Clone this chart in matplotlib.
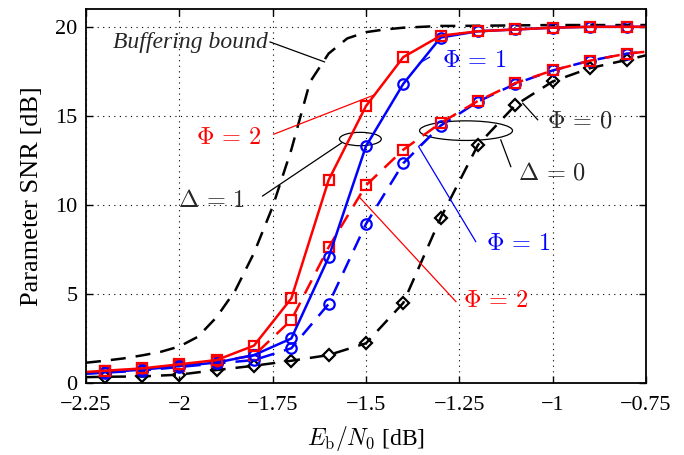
import numpy as np
import matplotlib
matplotlib.use("Agg")
import matplotlib.pyplot as plt
from matplotlib.patches import Ellipse

plt.rcParams["font.family"] = "Liberation Serif"
plt.rcParams["mathtext.fontset"] = "cm"

# Eb/N0 grid [dB]; markers sit on -2.2 ... -0.8, lines run edge to edge
ebn0 = [-2.25, -2.2, -2.1, -2.0, -1.9, -1.8, -1.7, -1.6, -1.5, -1.4,
        -1.3, -1.2, -1.1, -1.0, -0.9, -0.8, -0.75]

# Delta = 1 (solid)
snr_d1_phi2 = [0.62, 0.69, 0.82, 1.05, 1.29, 2.1, 4.75, 11.4, 15.55, 18.3,
               19.5, 19.75, 19.85, 19.95, 20.0, 20.0, 20.0]
snr_d1_phi1 = [0.55, 0.6, 0.75, 0.95, 1.15, 1.57, 2.5, 7.06, 13.3, 16.8,
               19.4, 19.75, 19.85, 19.95, 20.0, 20.0, 20.0]

# Delta = 0 (dashed)
snr_d0_phi2 = [0.58, 0.65, 0.78, 0.98, 1.2, 1.55, 3.54, 7.62, 11.1, 13.1,
               14.6, 15.84, 16.84, 17.55, 18.1, 18.5, 18.6]
snr_d0_phi1 = [0.52, 0.58, 0.7, 0.9, 1.1, 1.29, 1.95, 4.44, 8.93, 12.34,
               14.45, 15.8, 16.8, 17.55, 18.1, 18.5, 18.6]
snr_d0_phi0 = [0.33, 0.35, 0.37, 0.47, 0.73, 0.97, 1.25, 1.57, 2.23, 4.5,
               9.27, 13.37, 15.6, 16.93, 17.68, 18.15, 18.4]

# buffering bound (no markers)
buf_x = [-2.25, -2.2, -2.15, -2.1, -2.05, -2.0, -1.95, -1.9, -1.85, -1.8,
         -1.75, -1.7, -1.65, -1.6, -1.55, -1.5, -1.45, -1.4, -1.35, -1.3,
         -1.25, -1.0, -0.75]
buf_y = [1.14, 1.25, 1.38, 1.55, 1.75, 2.05, 2.6, 3.7, 5.2, 7.3,
         9.9, 13.1, 16.9, 18.5, 19.35, 19.7, 19.85, 19.95, 20.0, 20.05,
         20.05, 20.1, 20.1]

fig = plt.figure(figsize=(6.84, 4.55), dpi=100)
ax = fig.add_axes([0.1257, 0.1582, 0.8187, 0.822])

lw = 1.8
mk = dict(markersize=7.5, markerfacecolor="none", markeredgewidth=1.6,
          markevery=slice(1, 16))
dash = (6, 4)

ax.plot(buf_x, buf_y, color="k", lw=lw, dashes=dash)
ax.plot(ebn0, snr_d0_phi0, color="k", lw=lw, dashes=dash, marker="D",
        **{**mk, "markersize": 6.5})
ax.plot(ebn0, snr_d0_phi1, color="b", lw=lw, dashes=dash, marker="o", **mk)
ax.plot(ebn0, snr_d0_phi2, color="r", lw=lw, dashes=dash, marker="s", **mk)
ax.plot(ebn0, snr_d1_phi1, color="b", lw=lw, marker="o", **mk)
ax.plot(ebn0, snr_d1_phi2, color="r", lw=lw, marker="s", **mk)

# annotations
tfs = 17.5
txt_k = "0.15"
ax.plot([-1.757, -1.611], [19.15, 18.03], color="k", lw=0.9)
ax.text(-1.763, 19.13, "Buffering bound", style="italic", fontsize=17,
        ha="right", va="center", color=txt_k)

ax.plot([-1.747, -1.477], [13.97, 16.18], color="r", lw=0.9)
ax.text(-1.78, 13.74, r"$\Phi\,=\,2$", color="r", fontsize=tfs, ha="right", va="center")

ax.add_patch(Ellipse((-1.515, 13.7), 0.112, 0.75, fill=False, color="k", lw=0.9))
ax.plot([-1.777, -1.566], [10.5, 13.47], color="k", lw=0.9)
ax.text(-1.823, 10.24, r"$\Delta\,=\,1$", color=txt_k, fontsize=tfs, ha="right", va="center")

ax.plot([-1.357, -1.330], [17.96, 18.29], color="b", lw=0.9)
ax.text(-1.297, 18.05, r"$\Phi\,=\,1$", color="b", fontsize=tfs, ha="left", va="center")

ax.add_patch(Ellipse((-1.232, 14.17), 0.249, 1.1, fill=False, color="k", lw=0.9))
ax.plot([-1.080, -1.040], [15.71, 14.78], color="k", lw=0.9)
ax.text(-1.015, 14.68, r"$\Phi\,=\,0$", color=txt_k, fontsize=tfs, ha="left", va="center")
ax.plot([-1.139, -1.112], [13.65, 12.15], color="k", lw=0.9)
ax.text(-1.094, 11.78, r"$\Delta\,=\,0$", color=txt_k, fontsize=tfs, ha="left", va="center")

ax.plot([-1.330, -1.359, -1.206], [13.84, 13.28, 7.94], color="b", lw=0.9)
ax.text(-1.179, 7.75, r"$\Phi\,=\,1$", color="b", fontsize=tfs, ha="left", va="center")

ax.plot([-1.517, -1.259], [10.42, 4.57], color="r", lw=0.9)
ax.text(-1.241, 4.57, r"$\Phi\,=\,2$", color="r", fontsize=tfs, ha="left", va="center")

ax.set_xlim(-2.25, -0.75)
ax.set_ylim(0, 21)
ax.set_xticks([-2.25, -2.0, -1.75, -1.5, -1.25, -1.0, -0.75])
ax.set_xticklabels(["\u22122.25", "\u22122", "\u22121.75", "\u22121.5",
                    "\u22121.25", "\u22121", "\u22120.75"])
ax.set_yticks([0, 5, 10, 15, 20])
ax.tick_params(direction="in", top=True, right=True, labelsize=16, length=5, width=1)
ax.tick_params(axis="x", pad=9)
ax.tick_params(axis="y", pad=6)
ax.grid(True, linestyle=(0, (1, 4)), color="k", lw=0.8)
for s in ax.spines.values():
    s.set_linewidth(1.3)

ax.set_xlabel(r"$E_\mathrm{b}/N_0$ [dB]", fontsize=17, labelpad=7)
ax.set_ylabel("Parameter SNR [dB]", fontsize=19, labelpad=9)

fig.savefig("out.png", dpi=100)
